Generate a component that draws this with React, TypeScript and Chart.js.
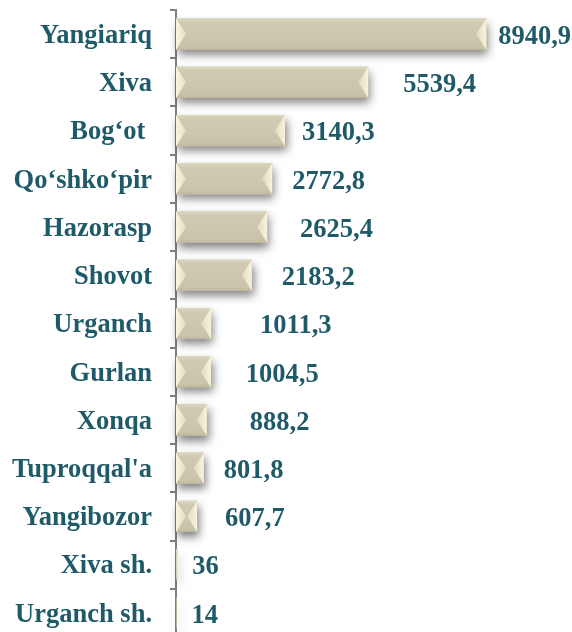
import React, { useEffect, useRef } from "react";
import { Chart, registerables } from "chart.js";

Chart.register(...registerables);

const categories = [
  "Yangiariq",
  "Xiva",
  "Bog‘ot ",
  "Qo‘shko‘pir",
  "Hazorasp",
  "Shovot",
  "Urganch",
  "Gurlan",
  "Xonqa",
  "Tuproqqal'a",
  "Yangibozor",
  "Xiva sh.",
  "Urganch sh.",
];

const values = [8940.9, 5539.4, 3140.3, 2772.8, 2625.4, 2183.2, 1011.3, 1004.5, 888.2, 801.8, 607.7, 36, 14];

// value label text (decimal comma)
const valueLabels = values.map((v) => String(v).replace(".", ","));

// styling: horizontal gap between bar end and its value label (manually placed in original)
const labelGaps = [12, 35, 17, 20, 33, 30, 49, 35, 43, 20, 28, 15, 15];

const TEXT_COLOR = "#1F5A69";
const FONT = 'bold 26.5px "Liberation Serif", "Times New Roman", serif';
const FACE = "#CDC7AF";
const AXIS = "#7F7F7F";

const shadowPlugin = {
  id: "barShadow",
  beforeDatasetsDraw(chart: any) {
    const ctx = chart.ctx;
    const meta = chart.getDatasetMeta(0);
    meta.data.forEach((bar: any) => {
      const x0 = Math.min(bar.base, bar.x);
      const x1 = Math.max(bar.base, bar.x);
      const y0 = bar.y - bar.height / 2;
      ctx.save();
      ctx.shadowColor = "rgba(0,0,0,0.5)";
      ctx.shadowBlur = 9;
      ctx.shadowOffsetX = 2;
      ctx.shadowOffsetY = 5;
      ctx.fillStyle = FACE;
      ctx.fillRect(x0, y0, x1 - x0, bar.height);
      ctx.restore();
    });
  },
};

const bevelPlugin = {
  id: "bevel",
  afterDatasetsDraw(chart: any) {
    const ctx = chart.ctx;
    const meta = chart.getDatasetMeta(0);
    meta.data.forEach((bar: any) => {
      const x0 = Math.min(bar.base, bar.x);
      const x1 = Math.max(bar.base, bar.x);
      const h = bar.height;
      const y0 = bar.y - h / 2;
      const y1 = bar.y + h / 2;
      const cy = bar.y;
      const wdt = x1 - x0;
      if (wdt <= 0.5) return;
      const w = Math.min(10, wdt / 2);
      ctx.save();
      // top trapezoid
      let g = ctx.createLinearGradient(0, y0, 0, cy);
      g.addColorStop(0, "#DDD8C1");
      g.addColorStop(0.25, "#D0CAB2");
      g.addColorStop(1, FACE);
      ctx.fillStyle = g;
      ctx.beginPath();
      ctx.moveTo(x0, y0);
      ctx.lineTo(x1, y0);
      ctx.lineTo(x1 - w, cy);
      ctx.lineTo(x0 + w, cy);
      ctx.closePath();
      ctx.fill();
      // bottom trapezoid
      g = ctx.createLinearGradient(0, cy, 0, y1);
      g.addColorStop(0, FACE);
      g.addColorStop(0.8, "#C9C3AA");
      g.addColorStop(1, "#BDB79E");
      ctx.fillStyle = g;
      ctx.beginPath();
      ctx.moveTo(x0, y1);
      ctx.lineTo(x1, y1);
      ctx.lineTo(x1 - w, cy);
      ctx.lineTo(x0 + w, cy);
      ctx.closePath();
      ctx.fill();
      // left triangle
      g = ctx.createLinearGradient(x0, 0, x0 + w, 0);
      g.addColorStop(0, "#F8F5E0");
      g.addColorStop(1, "#E4DEC4");
      ctx.fillStyle = g;
      ctx.beginPath();
      ctx.moveTo(x0, y0);
      ctx.lineTo(x0 + w, cy);
      ctx.lineTo(x0, y1);
      ctx.closePath();
      ctx.fill();
      // right triangle
      g = ctx.createLinearGradient(x1 - w, 0, x1, 0);
      g.addColorStop(0, "#E0DAC0");
      g.addColorStop(1, "#F8F4DC");
      ctx.fillStyle = g;
      ctx.beginPath();
      ctx.moveTo(x1, y0);
      ctx.lineTo(x1 - w, cy);
      ctx.lineTo(x1, y1);
      ctx.closePath();
      ctx.fill();
      ctx.restore();
    });
  },
};

const valueLabelPlugin = {
  id: "valueLabels",
  afterDatasetsDraw(chart: any) {
    const ctx = chart.ctx;
    const meta = chart.getDatasetMeta(0);
    ctx.save();
    ctx.font = FONT;
    ctx.fillStyle = TEXT_COLOR;
    ctx.textAlign = "left";
    ctx.textBaseline = "middle";
    meta.data.forEach((bar: any, i: number) => {
      ctx.fillText(valueLabels[i], Math.max(bar.x, bar.base) + labelGaps[i], bar.y + 3);
    });
    ctx.restore();
  },
};

export default function App() {
  const ref = useRef<HTMLCanvasElement | null>(null);
  useEffect(() => {
    if (!ref.current) return;
    const chart = new Chart(ref.current, {
      type: "bar",
      data: {
        labels: categories,
        datasets: [
          {
            data: values,
            backgroundColor: FACE,
            borderWidth: 0,
            categoryPercentage: 1,
            barPercentage: 0.645,
          },
        ],
      },
      options: {
        indexAxis: "y",
        animation: false,
        responsive: false,
        maintainAspectRatio: false,
        devicePixelRatio: 1,
        layout: { padding: { top: 10, right: 49, bottom: 13, left: 0 } },
        plugins: { legend: { display: false }, tooltip: { enabled: false } },
        scales: {
          x: { display: false, min: 0, max: 10000 },
          y: {
            afterFit: (s: any) => {
              s.width = 176;
              s.paddingTop = 0;
              s.paddingBottom = 0;
            },
            ticks: {
              font: { family: '"Liberation Serif", "Times New Roman", serif', size: 26.5, weight: "bold" },
              color: TEXT_COLOR,
              padding: 18,
              labelOffset: 2,
            },
            grid: {
              drawOnChartArea: false,
              drawTicks: true,
              tickLength: 6,
              color: AXIS,
              lineWidth: 2,
            },
            border: { display: true, color: AXIS, width: 2 },
          },
        },
      },
      plugins: [shadowPlugin, bevelPlugin, valueLabelPlugin],
    });
    return () => chart.destroy();
  }, []);
  return (
    <div style={{ position: "fixed", left: 0, top: 0, width: 572, height: 632, overflow: "hidden", background: "#fff" }}>
      <canvas ref={ref} width={572} height={650} style={{ width: 572, height: 650, display: "block" }} />
    </div>
  );
}
